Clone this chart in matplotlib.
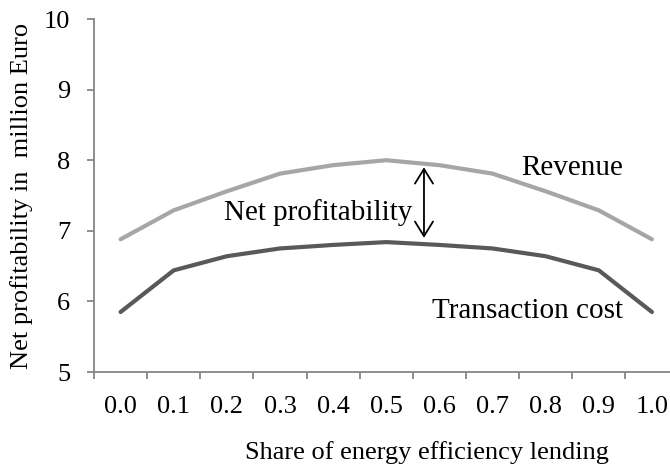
import matplotlib.pyplot as plt
import numpy as np

plt.rcParams['font.family'] = ['Liberation Serif', 'DejaVu Serif']

shares = ['0.0', '0.1', '0.2', '0.3', '0.4', '0.5', '0.6', '0.7', '0.8', '0.9', '1.0']
revenue = [6.88, 7.29, 7.56, 7.81, 7.93, 8.00, 7.93, 7.81, 7.56, 7.29, 6.88]
trans_cost = [5.85, 6.44, 6.64, 6.75, 6.80, 6.84, 6.80, 6.75, 6.64, 6.44, 5.85]

axis_col = '#868686'

fig = plt.figure(figsize=(6.7, 4.66), dpi=100)
# the plot area runs past the right edge of the picture, as in the original
ax = fig.add_axes([0.1403, 0.2017, 0.8724, 0.7575])

x = np.arange(len(shares))
ax.plot(x, revenue, color='#a6a6a6', lw=3, solid_capstyle='round')
ax.plot(x, trans_cost, color='#595959', lw=3, solid_capstyle='round')

ax.set_xlim(-0.5, len(shares) - 0.5)
ax.set_ylim(5, 10)
ax.set_yticks(range(5, 11))

# category axis: labels at centres, tick marks between categories
ax.set_xticks(x)
ax.set_xticklabels(shares)
ax.set_xticks(np.arange(-0.5, len(shares)), minor=True)
ax.tick_params(axis='x', which='major', length=0, pad=17, labelsize=19)
ax.tick_params(axis='x', which='minor', length=5, width=1.3, color=axis_col, direction='out')
ax.tick_params(axis='y', length=5, width=1.3, color=axis_col, pad=12, labelsize=19)

for s in ['top', 'right']:
    ax.spines[s].set_visible(False)
for s in ['left', 'bottom']:
    ax.spines[s].set_color(axis_col)
    ax.spines[s].set_linewidth(1.3)

ax.set_ylabel('Net profitability in  million Euro', fontsize=19, labelpad=8)
ax.set_xlabel('Share of energy efficiency lending', fontsize=19, labelpad=17)
ax.xaxis.label.set_position((0.57, 0))

ax.annotate('', xy=(5.71, 6.90), xytext=(5.71, 7.90),
            arrowprops=dict(arrowstyle='<->,head_length=1.05,head_width=0.65', color='black', lw=1.3,
                            shrinkA=0, shrinkB=0))
ax.text(3.71, 7.15, 'Net profitability', fontsize=21, ha='center', va='baseline')
ax.text(8.49, 7.79, 'Revenue', fontsize=21, ha='center', va='baseline')
ax.text(7.66, 5.76, 'Transaction cost', fontsize=21, ha='center', va='baseline')

fig.savefig('out.png', dpi=100)
